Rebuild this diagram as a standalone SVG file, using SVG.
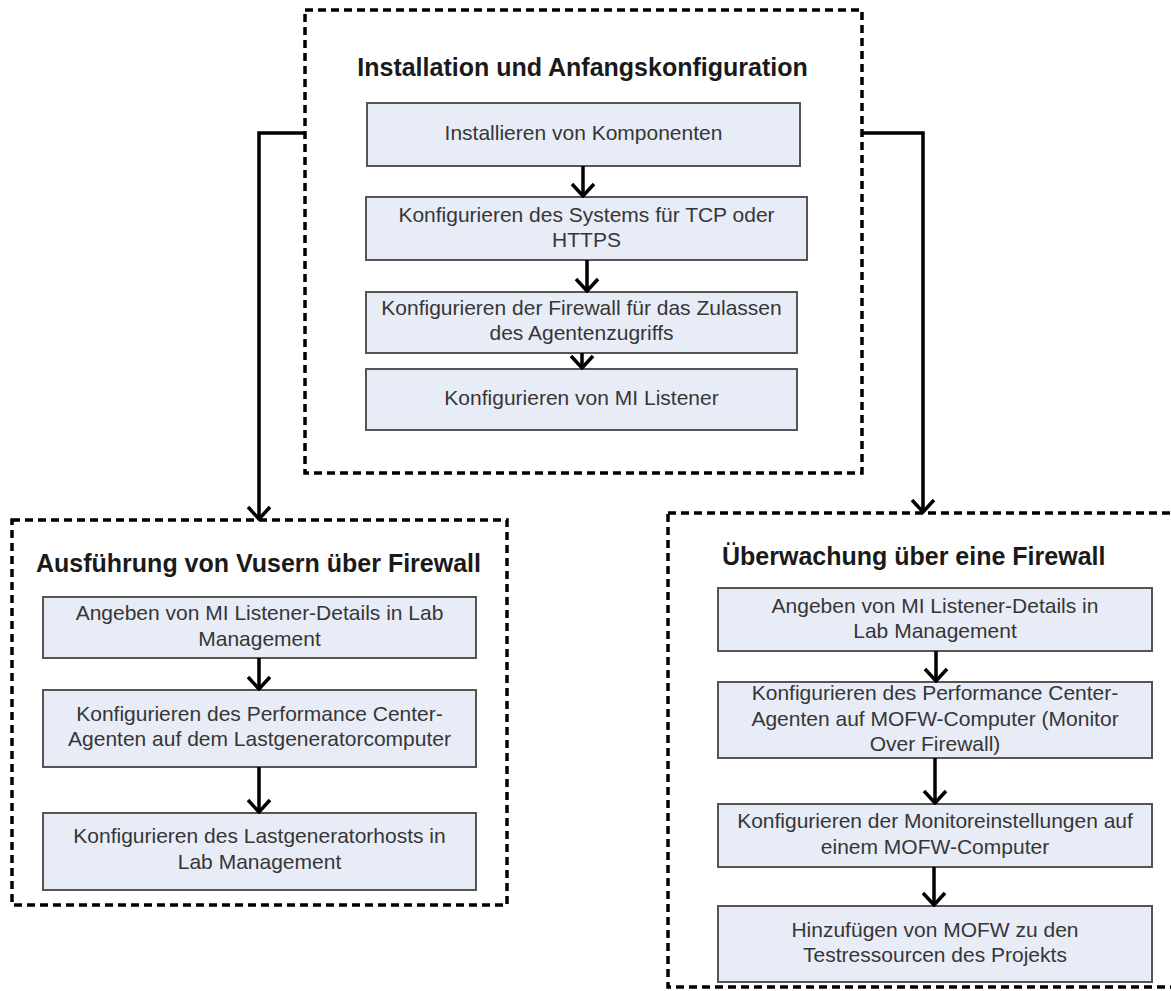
<svg xmlns="http://www.w3.org/2000/svg" width="1171" height="991" viewBox="0 0 1171 991">
  <style>
    .group { fill: none; stroke: #000; stroke-width: 3.5; stroke-dasharray: 8 5; }
    .box { fill: #E8ECF6; stroke: #555; stroke-width: 2; }
    .title { font-family: "Liberation Sans", Arial, sans-serif; font-weight: bold; font-size: 25px; fill: #1a1a1a; }
    .label { font-family: "Liberation Sans", Arial, sans-serif; font-size: 21px; fill: #363636; text-anchor: middle; }
    .link { fill: none; stroke: #000; stroke-width: 3.5; }
  </style>
  <defs>
    <marker id="head" markerUnits="userSpaceOnUse" viewBox="-2 -2 17 26" refX="13" refY="11" markerWidth="17" markerHeight="26" orient="auto">
      <path d="M1,0 L13,11 L1,22" fill="none" stroke="#000" stroke-width="3.5"/>
    </marker>
  </defs>
  <rect width="1171" height="991" fill="#fff"/>

  <!-- Installation group -->
  <g id="group-install">
    <rect class="group" x="305" y="10" width="557" height="463"/>
    <text class="title" x="582.5" y="76" text-anchor="middle">Installation und Anfangskonfiguration</text>
  </g>
  <g id="install-components">
    <rect class="box" x="367" y="103" width="433" height="63"/>
    <text class="label" x="583.5" y="140">Installieren von Komponenten</text>
  </g>
  <g id="install-tcp">
    <rect class="box" x="366" y="197" width="441" height="63"/>
    <text class="label" x="586.5" y="222">Konfigurieren des Systems für TCP oder</text>
    <text class="label" x="586.5" y="247">HTTPS</text>
  </g>
  <g id="install-firewall">
    <rect class="box" x="366" y="292" width="431" height="61"/>
    <text class="label" x="581.5" y="315">Konfigurieren der Firewall für das Zulassen</text>
    <text class="label" x="581.5" y="340">des Agentenzugriffs</text>
  </g>
  <g id="install-mi">
    <rect class="box" x="366" y="369" width="431" height="61"/>
    <text class="label" x="581.5" y="405">Konfigurieren von MI Listener</text>
  </g>

  <!-- Vuser group -->
  <g id="group-vusers">
    <rect class="group" x="12" y="520" width="495" height="385"/>
    <text class="title" x="258.5" y="572" text-anchor="middle">Ausführung von Vusern über Firewall</text>
  </g>
  <g id="vuser-mi">
    <rect class="box" x="43" y="597" width="433" height="61"/>
    <text class="label" x="259.5" y="620">Angeben von MI Listener-Details in Lab</text>
    <text class="label" x="259.5" y="646">Management</text>
  </g>
  <g id="vuser-agent">
    <rect class="box" x="43" y="690" width="433" height="77"/>
    <text class="label" x="259.5" y="721">Konfigurieren des Performance Center-</text>
    <text class="label" x="259.5" y="746">Agenten auf dem Lastgeneratorcomputer</text>
  </g>
  <g id="vuser-host">
    <rect class="box" x="43" y="813" width="433" height="77"/>
    <text class="label" x="259.5" y="843">Konfigurieren des Lastgeneratorhosts in</text>
    <text class="label" x="259.5" y="869">Lab Management</text>
  </g>

  <!-- Monitoring group -->
  <g id="group-monitor">
    <rect class="group" x="668" y="513" width="512" height="474"/>
    <text class="title" x="722" y="565">Überwachung über eine Firewall</text>
  </g>
  <g id="monitor-mi">
    <rect class="box" x="718" y="588" width="434" height="63"/>
    <text class="label" x="935" y="613">Angeben von MI Listener-Details in</text>
    <text class="label" x="935" y="638">Lab Management</text>
  </g>
  <g id="monitor-agent">
    <rect class="box" x="718" y="682" width="434" height="76"/>
    <text class="label" x="935" y="700">Konfigurieren des Performance Center-</text>
    <text class="label" x="935" y="726">Agenten auf MOFW-Computer (Monitor</text>
    <text class="label" x="935" y="751">Over Firewall)</text>
  </g>
  <g id="monitor-settings">
    <rect class="box" x="718" y="804" width="434" height="63"/>
    <text class="label" x="935" y="828">Konfigurieren der Monitoreinstellungen auf</text>
    <text class="label" x="935" y="854">einem MOFW-Computer</text>
  </g>
  <g id="monitor-resources">
    <rect class="box" x="718" y="906" width="434" height="76"/>
    <text class="label" x="935" y="937">Hinzufügen von MOFW zu den</text>
    <text class="label" x="935" y="962">Testressourcen des Projekts</text>
  </g>

  <!-- Connectors -->
  <g id="connectors">
    <path class="link" d="M583,166 V196" marker-end="url(#head)"/>
    <path class="link" d="M587,260 V291" marker-end="url(#head)"/>
    <path class="link" d="M582,353 V368" marker-end="url(#head)"/>
    <path class="link" d="M305,133 H259 V519" marker-end="url(#head)"/>
    <path class="link" d="M862,133 H923 V512" marker-end="url(#head)"/>
    <path class="link" d="M259,658 V689" marker-end="url(#head)"/>
    <path class="link" d="M259,767 V812" marker-end="url(#head)"/>
    <path class="link" d="M936,651 V681" marker-end="url(#head)"/>
    <path class="link" d="M935,758 V803" marker-end="url(#head)"/>
    <path class="link" d="M934,867 V905" marker-end="url(#head)"/>
  </g>
</svg>
